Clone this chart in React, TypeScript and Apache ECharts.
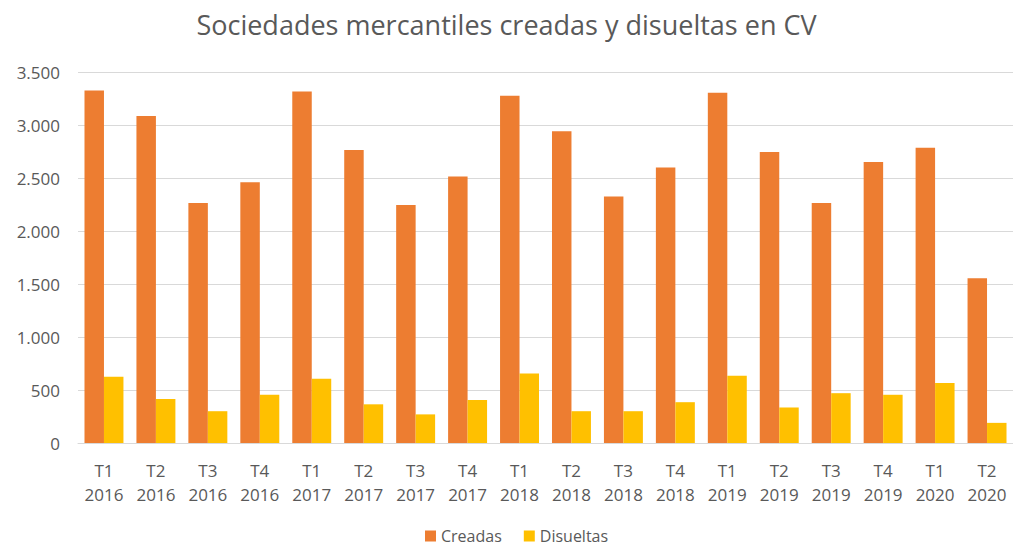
import React, { useEffect, useRef } from "react";
import * as echarts from "echarts";

const categories = [
  "T1\n2016", "T2\n2016", "T3\n2016", "T4\n2016",
  "T1\n2017", "T2\n2017", "T3\n2017", "T4\n2017",
  "T1\n2018", "T2\n2018", "T3\n2018", "T4\n2018",
  "T1\n2019", "T2\n2019", "T3\n2019", "T4\n2019",
  "T1\n2020", "T2\n2020",
];
const creadas = [3325, 3085, 2265, 2460, 3315, 2765, 2245, 2515, 3275, 2940, 2325, 2600, 3305, 2745, 2265, 2650, 2785, 1555];
const disueltas = [625, 415, 300, 455, 605, 365, 270, 405, 655, 300, 300, 385, 635, 335, 470, 455, 565, 190];

const fmt = (v: number) => String(v).replace(/\B(?=(\d{3})+(?!\d))/g, ".");

export default function App() {
  const ref = useRef<HTMLDivElement>(null);
  useEffect(() => {
    const chart = echarts.init(ref.current!, undefined, { renderer: "svg" });
    const font = "Open Sans, Noto Sans, sans-serif";
    chart.setOption({
      animation: false,
      textStyle: { fontFamily: font },
      title: {
        text: "Sociedades mercantiles creadas y disueltas en CV",
        left: "center",
        top: 6,
        textStyle: { fontSize: 27, fontWeight: "normal", color: "#595959", fontFamily: font },
      },
      legend: {
        top: 527,
        left: 425,
        padding: 0,
        itemWidth: 11,
        itemHeight: 11,
        itemGap: 22,
        icon: "rect",
        textStyle: { fontSize: 16, lineHeight: 18, color: "#595959", fontFamily: font },
        data: ["Creadas", "Disueltas"],
      },
      grid: { left: 78, right: 0, top: 72, bottom: 107, containLabel: false },
      xAxis: {
        type: "category",
        data: categories,
        axisLine: { lineStyle: { color: "#d9d9d9" } },
        axisTick: { show: false },
        axisLabel: { color: "#595959", fontSize: 17, lineHeight: 24, margin: 15, interval: 0, fontFamily: font },
      },
      yAxis: {
        type: "value",
        min: 0,
        max: 3500,
        interval: 500,
        axisLine: { show: false },
        axisTick: { show: false },
        splitLine: { lineStyle: { color: "#d9d9d9" } },
        axisLabel: { color: "#595959", fontSize: 17, margin: 18, formatter: (v: number) => fmt(v), fontFamily: font },
      },
      series: [
        { name: "Creadas", type: "bar", data: creadas, itemStyle: { color: "#ED7D31" }, barGap: "0%", barCategoryGap: "25%" },
        { name: "Disueltas", type: "bar", data: disueltas, itemStyle: { color: "#FFC000" }, barGap: "0%", barCategoryGap: "25%" },
      ],
    });
    return () => chart.dispose();
  }, []);
  return <div ref={ref} style={{ width: 1013, height: 550, position: "absolute", left: 0, top: 0 }} />;
}
